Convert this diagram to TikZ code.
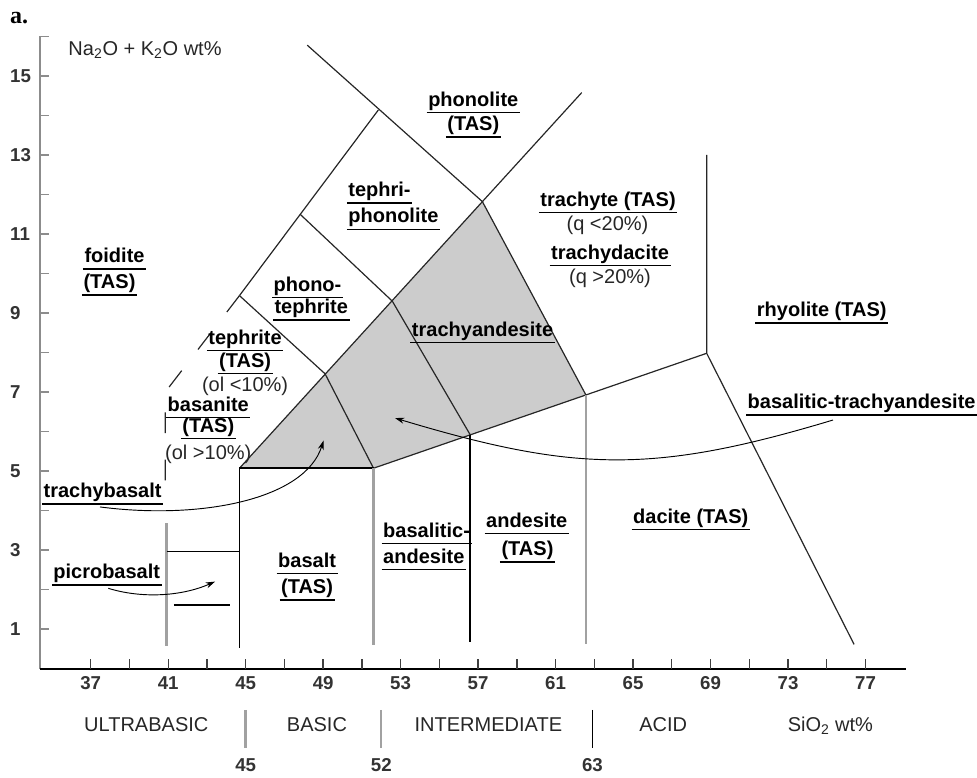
\documentclass[tikz,border=0pt]{standalone}
\usepackage{fontspec}
\setmainfont{Liberation Sans}
\newfontfamily\panelfont{Liberation Serif}
\usetikzlibrary{arrows.meta}
\definecolor{fieldgray}{gray}{0.8}
\definecolor{rulegray}{gray}{0.63}
\definecolor{axisgray}{gray}{0.55}
\newcommand{\labelsize}{\fontsize{15}{18}\selectfont}

\begin{document}
\begin{tikzpicture}[
        x=14.5275pt, y=29.625pt,
        rock/.style={font=\labelsize\bfseries, inner xsep=1pt, inner ysep=1pt, text depth=3.5pt,
            append after command={(\tikzlastnode.south west) edge[ulrule] (\tikzlastnode.south east)}},
        ulrule/.style={line width=1.1pt, black},
        note/.style={font=\labelsize, inner sep=0pt, anchor=base, text=black!85},
        axnum/.style={font=\fontsize{14}{16}\selectfont\bfseries, inner sep=0pt, text=black!80},
        group/.style={font=\labelsize, inner sep=0pt, anchor=base, text=black!85},
        border/.style={line width=0.9pt, black!85},
        heavy/.style={line width=1.3pt, black},
        pale/.style={line width=1.8pt, rulegray},
        pointer/.style={-{Stealth[length=7pt,width=4.5pt]}, line width=0.7pt},
        tick/.style={line width=1pt}
    ]
        \useasboundingbox (32.318,-2.772) rectangle (82.756,16.924);

        % Corners of the fields
        \coordinate (a45) at (44.68,5.07);
        \coordinate (a52) at (51.60,5.07);
        \coordinate (tbtop) at (49.10,7.46);
        \coordinate (bttop) at (52.57,9.30);
        \coordinate (tatop) at (57.22,11.82);
        \coordinate (taright) at (62.57,6.92);
        \coordinate (bamid) at (56.60,5.91);
        \coordinate (rhy) at (68.80,7.98);
        \coordinate (rhytop) at (68.80,13.00);
        \coordinate (rhybot) at (76.41,0.61);
        \coordinate (tephtop) at (44.68,9.44);
        \coordinate (pttop) at (47.81,11.50);
        \coordinate (tptop) at (51.85,14.14);
        \coordinate (phtop) at (48.18,15.78);
        \coordinate (trtop) at (62.35,14.58);
        \coordinate (foidcorner) at (40.85,7.00);
        \coordinate (foidend) at (40.85,4.52);

        % Shaded trachy fields
        \fill[fieldgray] (a45) -- (a52) -- (bamid) -- (taright) -- (tatop) -- (bttop) -- (tbtop) -- cycle;

        % Field boundaries
        \draw[border] (a45) -- (trtop);
        \draw[border] (phtop) -- (tatop) -- (taright);
        \draw[border] (tptop) -- (tephtop);
        \draw[border, dash pattern=on 15.5pt off 20pt] (tephtop) -- (foidcorner) -- (foidend);
        \draw[border] (pttop) -- (bttop) -- (bamid);
        \draw[border] (tephtop) -- (tbtop) -- (a52);
        \draw[border] (a52) -- (rhy);
        \draw[border] (rhytop) -- (rhy) -- (rhybot);
        \draw[heavy] (a45) -- (a52);
        \draw[heavy] (a45) -- (44.68,0.52);
        \draw[heavy] (bamid) -- (56.60,0.68);
        \draw[pale] (a52) -- (51.60,0.60);
        \draw[pale] (taright) -- (62.57,0.62);
        \draw[pale] (40.92,3.68) -- (40.92,0.57);
        \draw[heavy] (40.92,2.96) -- (44.68,2.96);
        \draw[heavy] (41.30,1.61) -- (44.19,1.61);

        % Axes
        \draw[line width=2pt, axisgray] (34.38,16) -- (34.38,0);
        \draw[line width=1.5pt] (34.38,0) -- (79.09,0);
        \foreach \n in {1,...,16} {
            \draw[tick, axisgray] (34.38,\n) -- ++(0.465,0);
        }
        \foreach \s in {37,39,...,77} {
            \draw[tick, black!75] (\s,0) -- ++(0,0.228);
        }
        \foreach \n in {1,3,...,15} {
            \node[axnum, anchor=west] (y\n) at (32.83,\n) {\n};
        }
        \foreach \s in {37,41,...,77} {
            \node[axnum, anchor=base] (x\s) at (\s,-0.54) {\s};
        }
        \node[font=\panelfont\fontsize{18}{20}\selectfont\bfseries, inner sep=0pt, anchor=base west] (panel) at (32.83,16.33) {a.};
        \node[group, anchor=base west] (alkali) at (35.84,15.53) {Na\textsubscript{2}O + K\textsubscript{2}O wt\%};

        % Silica groups
        \node[group] (ultrabasic) at (39.87,-1.60) {ULTRABASIC};
        \node[group] (basic) at (48.68,-1.60) {BASIC};
        \node[group] (intermediate) at (57.53,-1.60) {INTERMEDIATE};
        \node[group] (acid) at (66.56,-1.60) {ACID};
        \node[group] (silica) at (75.19,-1.60) {SiO\textsubscript{2} wt\%};
        \draw[pale] (45,-1.05) -- (45,-2.02);
        \draw[pale] (52,-1.05) -- (52,-2.02);
        \draw[heavy] (62.9,-1.05) -- (62.9,-2.02);
        \node[axnum, anchor=base] (s45) at (45,-2.61) {45};
        \node[axnum, anchor=base] (s52) at (52,-2.61) {52};
        \node[axnum, anchor=base] (s63) at (62.9,-2.61) {63};

        % Rock names
        \node[rock, anchor=south west] (foidite) at (36.60,10.11) {foidite};
        \node[rock, anchor=south west] (foiditetas) at (36.55,9.45) {(TAS)};
        \node[rock, anchor=south west] (phono) at (46.36,9.39) {phono-};
        \node[rock, anchor=south west] (phonotephrite) at (46.41,8.82) {tephrite};
        \node[rock, anchor=south] (tephrite) at (44.97,8.05) {tephrite};
        \node[rock, anchor=south] (tephritetas) at (44.97,7.47) {(TAS)};
        \node[note] (tephritenote) at (44.97,7.02) {(ol <10\%)};
        \node[rock, anchor=south] (basanite) at (43.07,6.36) {basanite};
        \node[rock, anchor=south] (basanitetas) at (43.07,5.82) {(TAS)};
        \node[note] (basanitenote) at (43.07,5.29) {(ol >10\%)};
        \node[rock, anchor=south west] (trachybasalt) at (34.49,4.16) {trachybasalt};
        \node[rock, anchor=south west] (picrobasalt) at (34.99,2.11) {picrobasalt};
        \node[rock, anchor=south] (basalt) at (48.17,2.41) {basalt};
        \node[rock, anchor=south] (basalttas) at (48.17,1.73) {(TAS)};
        \node[rock, anchor=south] (phonolite) at (56.75,14.07) {phonolite};
        \node[rock, anchor=south] (phonolitetas) at (56.75,13.46) {(TAS)};
        \node[rock, anchor=south west] (tephri) at (50.22,11.78) {tephri-};
        \node[rock, anchor=south west] (tephriphonolite) at (50.22,11.12) {phonolite};
        \node[rock, anchor=south] (trachyte) at (63.71,11.54) {trachyte (TAS)};
        \node[note] (trachytenote) at (63.68,11.10) {(q <20\%)};
        \node[rock, anchor=south] (trachydacite) at (63.81,10.20) {trachydacite};
        \node[note] (trachydacitenote) at (63.81,9.75) {(q >20\%)};
        \node[rock, anchor=south] (trachyandesite) at (57.23,8.25) {trachyandesite};
        \node[rock, anchor=south] (rhyolite) at (74.74,8.75) {rhyolite (TAS)};
        \node[rock, anchor=south] (bastrachy) at (76.80,6.42) {basalitic-trachyandesite};
        \node[rock, anchor=south west] (basalitic) at (52.02,3.17) {basalitic-};
        \node[rock, anchor=south west] (basandesite) at (52.02,2.51) {andesite};
        \node[rock, anchor=south] (andesite) at (59.51,3.42) {andesite};
        \node[rock, anchor=south] (andesitetas) at (59.55,2.70) {(TAS)};
        \node[rock, anchor=south] (dacite) at (67.98,3.52) {dacite (TAS)};

        % Pointers to the shaded fields
        \coordinate (tbtail) at (37.48,4.09);
        \coordinate (tbhead) at (49.02,5.77);
        \coordinate (pbtail) at (37.91,2.03);
        \coordinate (pbhead) at (43.42,2.20);
        \coordinate (bttail) at (75.32,6.29);
        \coordinate (bthead) at (52.71,6.34);
        \draw[pointer] (tbtail) .. controls (42.64,3.76) and (48.06,4.27) .. (tbhead);
        \draw[pointer] (pbtail) .. controls (39.55,1.78) and (41.61,1.81) .. (pbhead);
        \draw[pointer] (bttail) .. controls (66.03,4.92) and (62.00,4.97) .. (bthead);
    \end{tikzpicture}
\end{document}
